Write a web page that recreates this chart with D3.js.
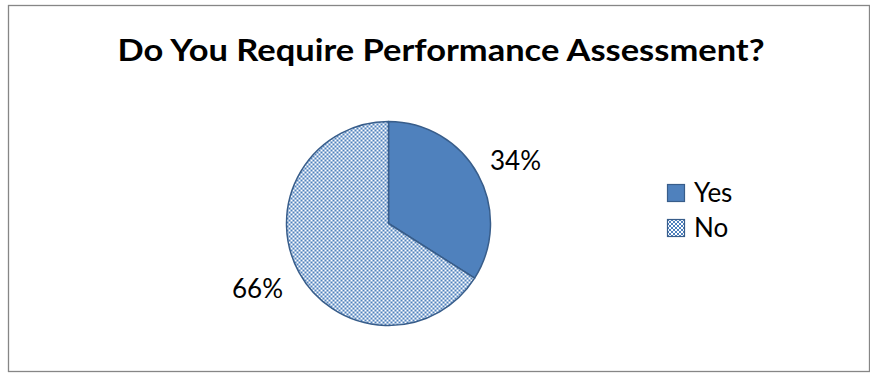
<!DOCTYPE html>
<html>
<head>
<meta charset="utf-8">
<script src="https://cdn.jsdelivr.net/npm/d3@7"></script>
<style>
  html, body { margin: 0; padding: 0; background: #fff; }
  svg { display: block; }
  text { font-family: Lato, "Open Sans", sans-serif; }
</style>
</head>
<body>
<svg id="chart" width="870" height="373"></svg>
<script>
const title = "Do You Require Performance Assessment?";
const categories = ["Yes", "No"];
const values = [34, 66];
const valueLabels = ["34%", "66%"];

const svg = d3.select("#chart");

// Dotted-grid fill for the "No" slice
const defs = svg.append("defs");
const pat = defs.append("pattern")
  .attr("id", "dotgrid")
  .attr("patternUnits", "userSpaceOnUse")
  .attr("width", 4).attr("height", 4);
pat.append("rect").attr("width", 4).attr("height", 4).attr("fill", "#ffffff");
pat.append("rect").attr("x", 0).attr("y", 0).attr("width", 2).attr("height", 2).attr("fill", "#4F81BD");
pat.append("rect").attr("x", 2).attr("y", 2).attr("width", 2).attr("height", 2).attr("fill", "#4F81BD");

const fills = ["#4F81BD", "url(#dotgrid)"];

// Chart area frame
svg.append("rect")
  .attr("x", 8.5).attr("y", 5.5)
  .attr("width", 861).attr("height", 366)
  .attr("fill", "#fff")
  .attr("stroke", "#868686")
  .attr("stroke-width", 1.3);

// Title
svg.append("text")
  .attr("x", 441).attr("y", 61)
  .attr("text-anchor", "middle")
  .attr("font-weight", "bold")
  .attr("font-size", 30)
  .attr("fill", "#000")
  .attr("textLength", 647)
  .attr("lengthAdjust", "spacingAndGlyphs")
  .text(title);

// Pie, starting at 12 o'clock and running clockwise
const cx = 388.5, cy = 223.5, r = 102;
const pie = d3.pie().sort(null).value(d => d)(values);
const arc = d3.arc().innerRadius(0).outerRadius(r);
const g = svg.append("g").attr("transform", `translate(${cx},${cy})`);
g.selectAll("path.slice")
  .data(pie)
  .join("path")
  .attr("class", "slice")
  .attr("d", arc)
  .attr("fill", (d, i) => fills[i])
  .attr("stroke", "#385D8A")
  .attr("stroke-width", 1.5)
  .attr("stroke-linejoin", "round");

// Percentage labels outside each slice: Yes at upper right, No at lower left
const labelSpots = [
  { x: 490 - cx, y: 170 - cy, anchor: "start" },
  { x: 283 - cx, y: 298 - cy, anchor: "end" }
];
g.selectAll("text.pct")
  .data(pie)
  .join("text")
  .attr("class", "pct")
  .attr("x", (d, i) => labelSpots[i].x)
  .attr("y", (d, i) => labelSpots[i].y)
  .attr("text-anchor", (d, i) => labelSpots[i].anchor)
  .attr("font-size", 26)
  .attr("fill", "#000")
  .text((d, i) => valueLabels[i]);

// Legend
const legend = svg.append("g").attr("transform", "translate(667,184)");
const item = legend.selectAll("g.item")
  .data(categories)
  .join("g")
  .attr("class", "item")
  .attr("transform", (d, i) => `translate(0,${i * 35})`);
item.append("rect")
  .attr("x", 0.5).attr("y", 0.5)
  .attr("width", 17).attr("height", 17)
  .attr("fill", (d, i) => fills[i])
  .attr("stroke", "#385D8A")
  .attr("stroke-width", 1.2);
item.append("text")
  .attr("x", 27).attr("y", 18)
  .attr("font-size", 26)
  .attr("fill", "#000")
  .text(d => d);
</script>
</body>
</html>
